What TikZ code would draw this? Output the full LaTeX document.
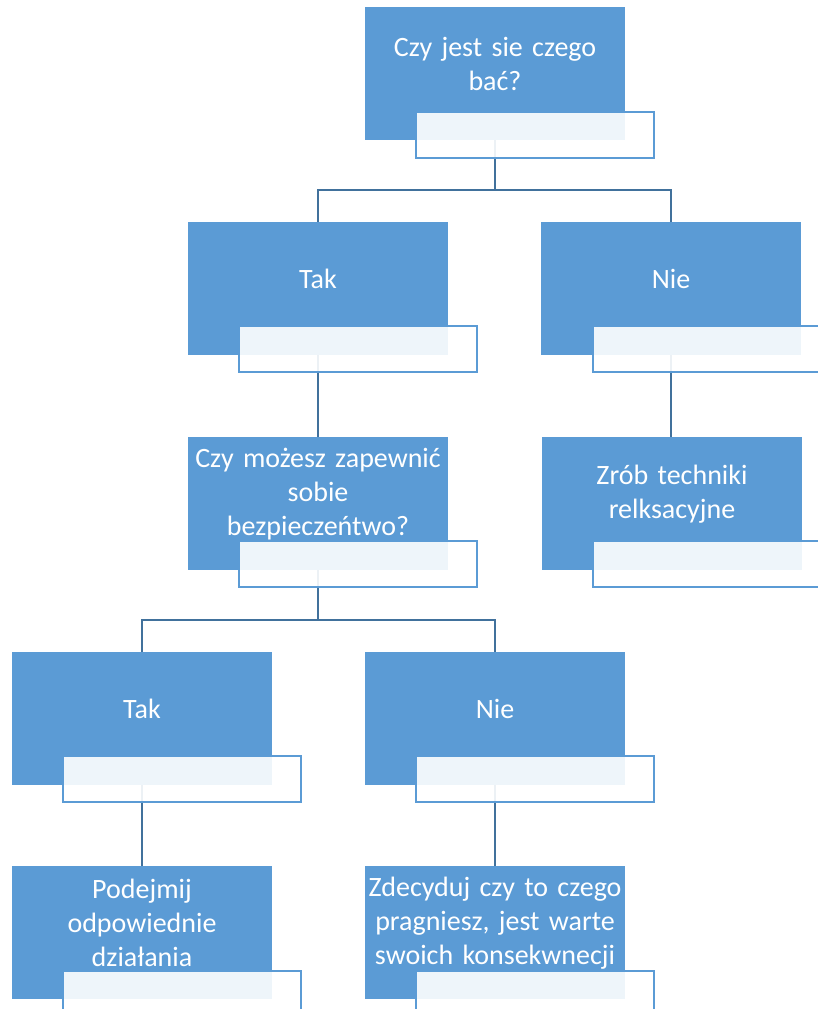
\documentclass[tikz,border=0pt]{standalone}
\usepackage{fontspec}
\setmainfont{Carlito}
\definecolor{boxblue}{HTML}{5B9BD5}
\definecolor{lineblue}{HTML}{41719C}
\begin{document}
\begin{tikzpicture}[x=1pt,y=-1pt,
  bluebox/.style={fill=boxblue, draw=none, minimum width=260pt, minimum height=133pt, anchor=north west, inner sep=0pt, outer sep=0pt},
  subbox/.style={fill=white, fill opacity=0.9, draw=boxblue, draw opacity=1, line width=1.5pt, minimum width=238pt, minimum height=46pt, anchor=north west, inner sep=0pt, outer sep=0pt},
  lbl/.style={text=white, font=\fontsize{28}{34}\selectfont, align=center, text width=260pt, inner sep=0pt},
  conn/.style={draw=lineblue, line width=2pt}]
\useasboundingbox (0,0) rectangle (817,1009);
% blue boxes
\node[bluebox] (b0) at (365,7) {};
\node[bluebox] (b1) at (188,222) {};
\node[bluebox] (b2) at (541,222) {};
\node[bluebox] (b3) at (188,437) {};
\node[bluebox] (b4) at (542,437) {};
\node[bluebox] (b5) at (12,652) {};
\node[bluebox] (b6) at (365,652) {};
\node[bluebox] (b7) at (12,866) {};
\node[bluebox] (b8) at (365,866) {};
% connectors
\coordinate (j1) at (495,190);
\coordinate (j2) at (318,620);
\draw[conn] (b0.south) -- (j1);
\draw[conn] (j1) -| (b1.north);
\draw[conn] (j1) -| (b2.north);
\draw[conn] (b1.south) -- (b3.north);
\draw[conn] (b2.south) -- (b2.south |- b4.north);
\draw[conn] (b3.south) -- (j2);
\draw[conn] (j2) -| (b5.north);
\draw[conn] (j2) -| (b6.north);
\draw[conn] (b5.south) -- (b7.north);
\draw[conn] (b6.south) -- (b8.north);
% secondary boxes
\node[subbox] (s0) at (416,112) {};
\node[subbox] (s1) at (239,326) {};
\node[subbox] (s2) at (593,326) {};
\node[subbox] (s3) at (239,541) {};
\node[subbox] (s4) at (593,541) {};
\node[subbox] (s5) at (63,756) {};
\node[subbox] (s6) at (416,756) {};
\node[subbox] (s7) at (63,971) {};
\node[subbox] (s8) at (416,971) {};
% labels
\node[lbl] (t0) at (495,64) {Czy jest sie czego\\bać?};
\node[lbl] (t1) at (318,279) {Tak};
\node[lbl] (t2) at (671,279) {Nie};
\node[lbl] (t3) at (318,494) {Czy możesz zapewnić\\sobie\\bezpieczeńtwo?};
\node[lbl] (t4) at (672,494) {Zrób techniki\\relksacyjne};
\node[lbl] (t5) at (142,709) {Tak};
\node[lbl] (t6) at (495,709) {Nie};
\node[lbl] (t7) at (142,923) {Podejmij\\odpowiednie\\działania};
\node[lbl] (t8) at (495,923) {Zdecyduj czy to czego\\pragniesz, jest warte\\swoich konsekwnecji};
\end{tikzpicture}
\end{document}
